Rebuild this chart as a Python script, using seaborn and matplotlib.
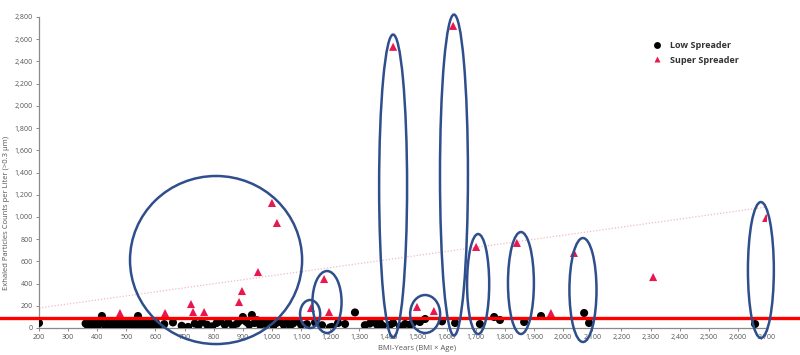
"""Exhaled particle counts vs BMI-years, low vs super spreaders"""
import numpy as np
import pandas as pd
import matplotlib
matplotlib.use('Agg')
import matplotlib.pyplot as plt
import matplotlib.transforms as mtransforms
from matplotlib.patches import Ellipse
from matplotlib.ticker import FuncFormatter, MultipleLocator
import seaborn as sns

sns.set_theme(style="white")
plt.rcParams['font.family'] = ['Open Sans', 'DejaVu Sans']

# ------------------------------------------------------------
# data
# ------------------------------------------------------------
low_x = [200, 360, 368, 375, 382, 390, 396, 403, 410, 416, 422, 430, 436, 443,
         450, 457, 463, 470, 477, 485, 492, 500, 507, 514, 520, 527, 533, 540,
         547, 553, 560, 566, 572, 578, 584, 590, 596, 602, 608, 630, 660, 690,
         712, 735, 748, 760, 777, 795, 810, 822, 838, 850, 866, 880, 890, 900,
         912, 922, 931, 940, 949, 960, 969, 980, 993, 1005, 1015, 1028, 1040,
         1052, 1062, 1072, 1085, 1100, 1120, 1148, 1172, 1199, 1206, 1227, 1251,
         1285, 1319, 1336, 1350, 1361, 1371, 1380, 1405, 1416, 1440, 1457, 1474,
         1485, 1508, 1526, 1584, 1629, 1714, 1763, 1783, 1866, 1924, 2072, 2089,
         2659]
low_y = [45, 40, 20, 55, 30, 10, 45, 25, 50, 108, 35, 15, 45, 30,
         20, 50, 35, 10, 40, 25, 55, 30, 15, 45, 35, 20, 50, 108,
         30, 45, 15, 40, 55, 25, 35, 60, 20, 45, 10, 35, 50, 20,
         10, 40, 25, 55, 30, 15, 45, 60, 30, 50, 20, 40, 65, 99,
         55, 30, 117, 45, 70, 25, 50, 35, 60, 20, 45, 55, 30,
         50, 20, 40, 60, 30, 35, 50, 25, 5, 10, 45, 36,
         140, 25, 40, 55, 30, 45, 20, 27, 45, 15, 36, 30,
         50, 54, 81, 60, 45, 36, 99, 72, 54, 108, 135, 45,
         36]

super_x = [478, 633, 722, 729, 767, 887, 897, 952, 1000, 1017, 1134, 1179,
           1196, 1416, 1498, 1556, 1622, 1701, 1841, 1958, 2037, 2309, 2697]
super_y = [135, 135, 216, 144, 144, 234, 333, 504, 1126, 946, 180, 441,
           144, 2532, 190, 153, 2720, 730, 766, 135, 676, 459, 991]

# dotted trend line endpoints
trend_x = [200, 2700]
trend_y = [180, 1090]

# threshold line
threshold = 90

# hand-drawn highlight ellipses: centre x, centre y, width, height (data units)
ell_cx = [808, 1131, 1189, 1416, 1625, 1526, 1708, 1855, 2068, 2679]
ell_cy = [612, 126, 234, 1278, 1377, 126, 396, 405, 342, 522]
ell_w = [591, 69, 100, 96, 96, 103, 76, 89, 93, 89]
ell_h = [1513, 252, 558, 2728, 2890, 342, 900, 918, 936, 1224]

df = pd.concat([
    pd.DataFrame({'x': low_x, 'y': low_y, 'group': 'Low Spreader'}),
    pd.DataFrame({'x': super_x, 'y': super_y, 'group': 'Super Spreader'}),
], ignore_index=True)

# ------------------------------------------------------------
fig = plt.figure(figsize=(8, 3.55), dpi=100)
ax = fig.add_axes([39 / 800, 27 / 355, 728 / 800, 311 / 355])

ax.plot(trend_x, trend_y, linestyle=(0, (1, 1.5)), color='#f2b8c6', linewidth=0.9, zorder=1)

sns.scatterplot(data=df, x='x', y='y', hue='group', style='group',
                palette={'Low Spreader': 'black', 'Super Spreader': '#e8174f'},
                markers={'Low Spreader': 'o', 'Super Spreader': '^'},
                s=34, edgecolor='none', ax=ax, zorder=3, legend=True)

ax.set_xlim(200, 2700)
ax.set_ylim(0, 2800)
ax.xaxis.set_major_locator(MultipleLocator(100))
ax.yaxis.set_major_locator(MultipleLocator(200))
fmt = FuncFormatter(lambda v, p: f'{int(round(v)):,}')
ax.xaxis.set_major_formatter(fmt)
ax.yaxis.set_major_formatter(fmt)

for side in ['top', 'right']:
    ax.spines[side].set_visible(False)
for side in ['left', 'bottom']:
    ax.spines[side].set_color('#8a8a8a')
    ax.spines[side].set_linewidth(0.9)
ax.tick_params(axis='both', direction='out', length=2.5, width=0.7, color='#8a8a8a',
               labelsize=5, labelcolor='#555555', pad=2, bottom=True, left=True)

ax.set_ylabel('Exhaled Particles Counts per Liter (>0.3 μm)', fontsize=5.5, color='#555555')
ax.yaxis.set_label_coords(-0.04, 0.37)
ax.set_xlabel('BMI-Years (BMI × Age)', fontsize=5.5, color='#555555')
ax.xaxis.set_label_coords(0.52, -0.055)

# threshold line across the whole figure width
trans = mtransforms.blended_transform_factory(fig.transFigure, ax.transData)
ax.plot([0, 1], [threshold, threshold], color='#ff0000', linewidth=2.4,
        transform=trans, clip_on=False, zorder=5)

for cx, cy, w, h in zip(ell_cx, ell_cy, ell_w, ell_h):
    ax.add_patch(Ellipse((cx, cy), w, h, fill=False, edgecolor='#2f4e8c',
                         linewidth=1.8, clip_on=False, zorder=6))

leg = ax.legend(loc='upper left', bbox_to_anchor=(640 / 800, 1 - 33 / 355),
                bbox_transform=fig.transFigure, frameon=False, fontsize=6.5,
                handletextpad=0.4, labelspacing=0.6, markerscale=0.85)
for t in leg.get_texts():
    t.set_color('#333333')
    t.set_fontweight('bold')

fig.savefig('out.png', dpi=100)
